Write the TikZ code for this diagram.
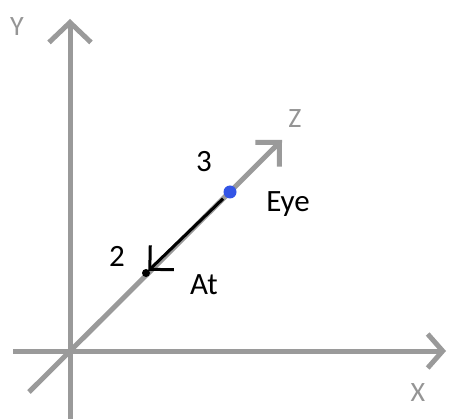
\documentclass[tikz,border=0pt]{standalone}
\usepackage{fontspec}
\setmainfont{Carlito}
\usetikzlibrary{arrows.meta}
\definecolor{axisgray}{HTML}{9A9A9A}
\definecolor{labelgray}{HTML}{959595}
\definecolor{eyeblue}{HTML}{3355E6}
\begin{document}
\begin{tikzpicture}[x=1pt,y=-1pt,
  axis/.style={draw=axisgray,line width=5pt},
  axlabel/.style={text=labelgray,font=\fontsize{28}{32}\selectfont,inner sep=0pt},
  txt/.style={text=black,font=\fontsize{31}{36}\selectfont,inner sep=0pt},
  pt/.style={circle,inner sep=0pt}]
\useasboundingbox (0,0) rectangle (449,419);
\coordinate (O) at (70,351);
\coordinate (ybot) at (70,419);
\coordinate (ytop) at (70,19);
\coordinate (xl) at (13,351);
\coordinate (xr) at (446,351);
\coordinate (zl) at (29,392);
\coordinate (zr) at (282,140);
% axes
\draw[axis,-{Straight Barb[length=20pt,width=42pt,line width=5pt]}] (ybot) -- (ytop);
\draw[axis,-{Straight Barb[length=15pt,width=34pt,line width=5pt]}] (xl) -- (xr);
\draw[axis,-{Straight Barb[length=17pt,width=34pt,line width=5pt]}] (zl) -- (zr);
% labels
\node[axlabel] (ly) at (17,27) {Y};
\node[axlabel] (lx) at (418,393) {X};
\node[axlabel] (lz) at (295,119) {Z};
% points
\node[pt,fill=eyeblue,minimum size=13pt] (eye) at (230,192) {};
\node[pt,fill=black,minimum size=8pt] (at) at (146,273) {};
\draw[line width=3pt,black,-{Straight Barb[length=17pt,width=34pt,line width=3pt]},shorten <=3pt,shorten >=-1pt] (eye) -- (at);
\node[txt] (l3) at (204,162) {3};
\node[txt] (leye) at (288,204) {Eye};
\node[txt] (l2) at (117,256) {2};
\node[txt] (lat) at (204,285) {At};
\end{tikzpicture}
\end{document}
